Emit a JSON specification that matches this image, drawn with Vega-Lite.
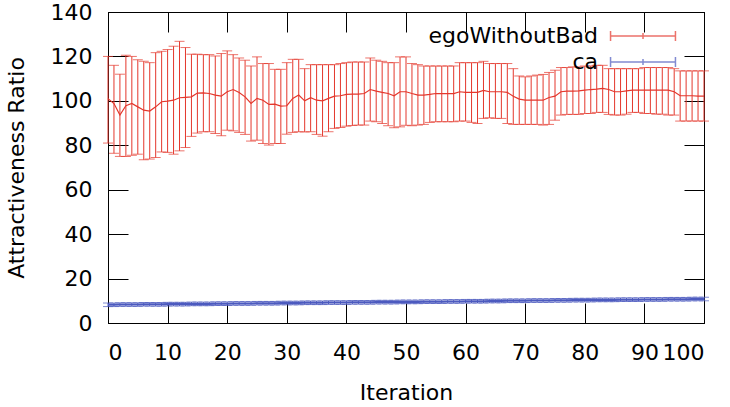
{
"$schema": "https://vega.github.io/schema/vega-lite/v6.json",
"width": 596, "height": 311,
"autosize": {"type": "none"},
"padding": {"left": 108, "top": 12, "right": 26, "bottom": 84},
"background": "white",
"config": {
  "view": {"stroke": "black", "strokeWidth": 1},
  "font": "DejaVu Sans",
  "axis": {"grid": false, "domainColor": "black", "tickColor": "black", "labelColor": "black", "titleColor": "black", "labelFont": "DejaVu Sans", "titleFont": "DejaVu Sans", "labelFontSize": 22, "titleFontSize": 22, "titleFontWeight": "normal", "tickSize": -20, "tickWidth": 1}
},
"data": {"values": [
{"i":0,"m":101,"lo":81,"hi":120,"c":8.2,"ce":0.8},
{"i":1,"m":98.8,"lo":76.4,"hi":116,"c":8.2,"ce":0.8},
{"i":2,"m":93.6,"lo":75,"hi":112,"c":8.3,"ce":0.8},
{"i":3,"m":97.8,"lo":75,"hi":120.5,"c":8.3,"ce":0.8},
{"i":4,"m":98.8,"lo":75.5,"hi":120,"c":8.3,"ce":0.8},
{"i":5,"m":97.3,"lo":76,"hi":118.5,"c":8.3,"ce":0.8},
{"i":6,"m":95.8,"lo":73.5,"hi":117.8,"c":8.4,"ce":0.8},
{"i":7,"m":95.4,"lo":73.8,"hi":117.2,"c":8.4,"ce":0.8},
{"i":8,"m":97.3,"lo":74.5,"hi":121.7,"c":8.4,"ce":0.8},
{"i":9,"m":99.6,"lo":77,"hi":122.3,"c":8.4,"ce":0.8},
{"i":10,"m":99.9,"lo":76.8,"hi":123.1,"c":8.5,"ce":0.8},
{"i":11,"m":100.3,"lo":76,"hi":124.6,"c":8.5,"ce":0.8},
{"i":12,"m":101.4,"lo":77.5,"hi":126.8,"c":8.5,"ce":0.8},
{"i":13,"m":101.6,"lo":79,"hi":124,"c":8.5,"ce":0.8},
{"i":14,"m":101.8,"lo":84,"hi":121,"c":8.6,"ce":0.8},
{"i":15,"m":103.5,"lo":85.5,"hi":121,"c":8.6,"ce":0.8},
{"i":16,"m":103.6,"lo":86.1,"hi":120.8,"c":8.6,"ce":0.8},
{"i":17,"m":103.3,"lo":86.1,"hi":120.8,"c":8.6,"ce":0.8},
{"i":18,"m":102.6,"lo":85.3,"hi":120.2,"c":8.7,"ce":0.8},
{"i":19,"m":102.1,"lo":84.3,"hi":121.3,"c":8.7,"ce":0.8},
{"i":20,"m":104.1,"lo":86.8,"hi":122.5,"c":8.7,"ce":0.8},
{"i":21,"m":105.1,"lo":86.5,"hi":120.8,"c":8.8,"ce":0.8},
{"i":22,"m":103.8,"lo":85.8,"hi":119.3,"c":8.8,"ce":0.8},
{"i":23,"m":101.8,"lo":84.9,"hi":118.3,"c":8.8,"ce":0.8},
{"i":24,"m":98.8,"lo":81.9,"hi":115.7,"c":8.8,"ce":0.8},
{"i":25,"m":101.1,"lo":82.3,"hi":119.8,"c":8.9,"ce":0.8},
{"i":26,"m":100.3,"lo":80.8,"hi":116.8,"c":8.9,"ce":0.8},
{"i":27,"m":98.4,"lo":80.1,"hi":116.8,"c":8.9,"ce":0.8},
{"i":28,"m":98.5,"lo":80.8,"hi":114.2,"c":8.9,"ce":0.8},
{"i":29,"m":97.6,"lo":80.8,"hi":114.2,"c":9.0,"ce":0.8},
{"i":30,"m":97.8,"lo":85,"hi":117.2,"c":9.0,"ce":0.8},
{"i":31,"m":101.1,"lo":85.8,"hi":118.7,"c":9.0,"ce":0.8},
{"i":32,"m":102.6,"lo":86.1,"hi":118.7,"c":9.0,"ce":0.8},
{"i":33,"m":100,"lo":86,"hi":114.5,"c":9.1,"ce":0.8},
{"i":34,"m":101.4,"lo":86.1,"hi":116.3,"c":9.1,"ce":0.8},
{"i":35,"m":100.3,"lo":84.9,"hi":116.3,"c":9.1,"ce":0.8},
{"i":36,"m":100,"lo":84.1,"hi":116.3,"c":9.1,"ce":0.8},
{"i":37,"m":101.1,"lo":86.1,"hi":116.3,"c":9.2,"ce":0.8},
{"i":38,"m":102.1,"lo":87.6,"hi":116.3,"c":9.2,"ce":0.8},
{"i":39,"m":102.3,"lo":88,"hi":116.8,"c":9.2,"ce":0.8},
{"i":40,"m":102.9,"lo":88.6,"hi":117.2,"c":9.2,"ce":0.8},
{"i":41,"m":103,"lo":88.9,"hi":117.5,"c":9.3,"ce":0.8},
{"i":42,"m":103,"lo":89.1,"hi":117.5,"c":9.3,"ce":0.8},
{"i":43,"m":103.3,"lo":89.1,"hi":117.5,"c":9.3,"ce":0.8},
{"i":44,"m":105.1,"lo":90.9,"hi":119.3,"c":9.3,"ce":0.8},
{"i":45,"m":104.4,"lo":90.6,"hi":118.3,"c":9.4,"ce":0.8},
{"i":46,"m":103.8,"lo":89.8,"hi":117.8,"c":9.4,"ce":0.8},
{"i":47,"m":103.3,"lo":88.8,"hi":117.2,"c":9.4,"ce":0.8},
{"i":48,"m":102.3,"lo":87.9,"hi":117.2,"c":9.4,"ce":0.8},
{"i":49,"m":104.1,"lo":88.3,"hi":119.8,"c":9.5,"ce":0.8},
{"i":50,"m":104.1,"lo":89,"hi":119.8,"c":9.5,"ce":0.8},
{"i":51,"m":103.3,"lo":88.8,"hi":116.8,"c":9.5,"ce":0.8},
{"i":52,"m":102.6,"lo":89.1,"hi":116.3,"c":9.5,"ce":0.8},
{"i":53,"m":102.6,"lo":89.4,"hi":115.7,"c":9.6,"ce":0.8},
{"i":54,"m":102.9,"lo":90.3,"hi":115.7,"c":9.6,"ce":0.8},
{"i":55,"m":103.3,"lo":90.6,"hi":115.7,"c":9.6,"ce":0.8},
{"i":56,"m":103.3,"lo":90.6,"hi":115.7,"c":9.6,"ce":0.8},
{"i":57,"m":103.3,"lo":90.6,"hi":115.7,"c":9.7,"ce":0.8},
{"i":58,"m":103.3,"lo":90.6,"hi":115.7,"c":9.7,"ce":0.8},
{"i":59,"m":104.1,"lo":90.9,"hi":117.2,"c":9.7,"ce":0.8},
{"i":60,"m":103.8,"lo":90.9,"hi":117.2,"c":9.8,"ce":0.8},
{"i":61,"m":103.8,"lo":90.3,"hi":117.2,"c":9.8,"ce":0.8},
{"i":62,"m":103.8,"lo":89.8,"hi":117.2,"c":9.8,"ce":0.8},
{"i":63,"m":104.7,"lo":92.1,"hi":117.8,"c":9.8,"ce":0.8},
{"i":64,"m":104.1,"lo":92.4,"hi":116.8,"c":9.9,"ce":0.8},
{"i":65,"m":104.1,"lo":92.1,"hi":116.8,"c":9.9,"ce":0.8},
{"i":66,"m":104.1,"lo":92.1,"hi":116.8,"c":9.9,"ce":0.8},
{"i":67,"m":103.8,"lo":89.8,"hi":116.8,"c":10.0,"ce":0.8},
{"i":68,"m":102.1,"lo":89.4,"hi":114.5,"c":10.0,"ce":0.8},
{"i":69,"m":100.8,"lo":89.4,"hi":111.2,"c":10.0,"ce":0.8},
{"i":70,"m":100.3,"lo":89.4,"hi":110.8,"c":10.0,"ce":0.8},
{"i":71,"m":100.3,"lo":89.4,"hi":111.2,"c":10.1,"ce":0.8},
{"i":72,"m":100.3,"lo":89.4,"hi":111.6,"c":10.1,"ce":0.8},
{"i":73,"m":100.3,"lo":89.1,"hi":111.9,"c":10.1,"ce":0.8},
{"i":74,"m":101.5,"lo":89.4,"hi":112.8,"c":10.1,"ce":0.8},
{"i":75,"m":102.1,"lo":91.3,"hi":113.8,"c":10.2,"ce":0.8},
{"i":76,"m":104.1,"lo":93.6,"hi":115,"c":10.2,"ce":0.8},
{"i":77,"m":104.4,"lo":93.9,"hi":115,"c":10.2,"ce":0.8},
{"i":78,"m":104.4,"lo":93.9,"hi":115.3,"c":10.3,"ce":0.8},
{"i":79,"m":104.5,"lo":93.9,"hi":115.3,"c":10.3,"ce":0.8},
{"i":80,"m":104.8,"lo":94.3,"hi":115.7,"c":10.3,"ce":0.8},
{"i":81,"m":105.1,"lo":94.3,"hi":115.7,"c":10.3,"ce":0.8},
{"i":82,"m":105.3,"lo":94.8,"hi":116,"c":10.4,"ce":0.8},
{"i":83,"m":105.6,"lo":94.8,"hi":116,"c":10.4,"ce":0.8},
{"i":84,"m":105.1,"lo":93.9,"hi":114.5,"c":10.4,"ce":0.8},
{"i":85,"m":104.1,"lo":93.6,"hi":114.5,"c":10.4,"ce":0.8},
{"i":86,"m":104.1,"lo":93.6,"hi":114.5,"c":10.5,"ce":0.8},
{"i":87,"m":104.5,"lo":94,"hi":114.5,"c":10.5,"ce":0.8},
{"i":88,"m":104.8,"lo":94.8,"hi":114.5,"c":10.5,"ce":0.8},
{"i":89,"m":104.8,"lo":94.8,"hi":114.5,"c":10.5,"ce":0.8},
{"i":90,"m":104.8,"lo":94.3,"hi":115,"c":10.6,"ce":0.8},
{"i":91,"m":104.8,"lo":94.3,"hi":115,"c":10.6,"ce":0.8},
{"i":92,"m":104.8,"lo":94,"hi":115,"c":10.6,"ce":0.8},
{"i":93,"m":104.8,"lo":94,"hi":115,"c":10.6,"ce":0.8},
{"i":94,"m":104.8,"lo":93.6,"hi":115,"c":10.7,"ce":0.8},
{"i":95,"m":104.1,"lo":93.6,"hi":114.5,"c":10.7,"ce":0.8},
{"i":96,"m":102.3,"lo":90.9,"hi":113.5,"c":10.7,"ce":0.8},
{"i":97,"m":102.3,"lo":90.9,"hi":113.5,"c":10.7,"ce":0.8},
{"i":98,"m":102.3,"lo":90.9,"hi":113.5,"c":10.8,"ce":0.8},
{"i":99,"m":102.1,"lo":90.9,"hi":113.5,"c":10.8,"ce":0.8},
{"i":100,"m":102.1,"lo":90.9,"hi":113.5,"c":10.8,"ce":0.8}
]},
"layer": [
  {
    "mark": {"type": "errorbar", "ticks": {"size": 10}, "thickness": 1},
    "encoding": {
      "x": {"field": "i", "type": "quantitative", "scale": {"domain": [0, 100], "nice": false, "zero": false},
            "axis": {"orient": "bottom", "values": [0,10,20,30,40,50,60,70,80,90,100], "title": "Iteration", "labelPadding": 39, "titlePadding": 19}},
      "y": {"field": "lo", "type": "quantitative", "scale": {"domain": [0, 140], "nice": false},
            "axis": {"orient": "left", "values": [0,20,40,60,80,100,120,140], "title": "Attractiveness Ratio", "labelPadding": 36, "titlePadding": 22}},
      "y2": {"field": "hi"},
      "color": {"datum": "egoWithoutBad", "type": "nominal",
        "scale": {"domain": ["egoWithoutBad", "ca"], "range": ["#e4372c", "#4c5abf"]},
        "legend": {"title": null, "orient": "none", "legendX": 523, "legendY": 12, "padding": 0,
          "symbolType": "M-2.95,0L2.95,0M-2.95,-0.45L-2.95,0.45M2.95,-0.45L2.95,0.45M0,-0.27L0,0.27",
          "symbolSize": 484, "symbolStrokeWidth": 1.5, "symbolFillColor": "transparent", "symbolOffset": 0,
          "labelAlign": "right", "labelOffset": -57, "labelFontSize": 22, "labelFont": "DejaVu Sans", "labelColor": "black", "labelBaseline": "middle", "rowPadding": 3, "labelLimit": 400}}
    }
  },
  {
    "mark": {"type": "line", "strokeWidth": 1.2},
    "encoding": {
      "x": {"field": "i", "type": "quantitative", "axis": {"orient": "top", "labels": false, "title": null, "values": [0,10,20,30,40,50,60,70,80,90,100]}},
      "y": {"field": "m", "type": "quantitative", "axis": {"orient": "right", "labels": false, "title": null, "values": [0,20,40,60,80,100,120,140]}},
      "color": {"datum": "egoWithoutBad", "type": "nominal"}
    }
  },
  {
    "mark": {"type": "errorbar", "ticks": {"size": 10}, "thickness": 1},
    "encoding": {
      "x": {"field": "i", "type": "quantitative", "axis": null},
      "y": {"field": "c", "type": "quantitative", "axis": null},
      "yError": {"field": "ce"},
      "color": {"datum": "ca", "type": "nominal"}
    }
  },
  {
    "mark": {"type": "line", "strokeWidth": 2},
    "encoding": {
      "x": {"field": "i", "type": "quantitative", "axis": null},
      "y": {"field": "c", "type": "quantitative", "axis": null},
      "color": {"datum": "ca", "type": "nominal"}
    }
  }
]
}
